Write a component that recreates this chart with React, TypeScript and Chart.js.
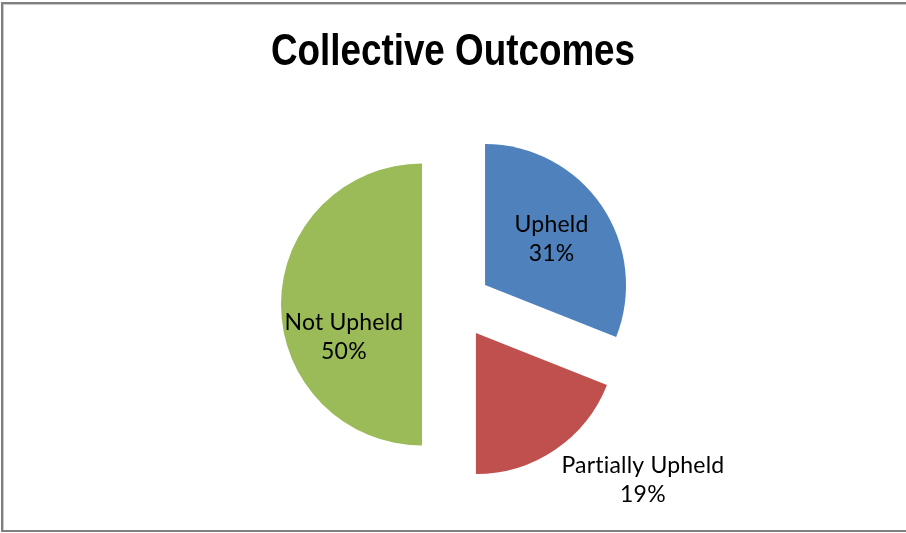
import React, { useEffect, useRef } from 'react';
import { Chart, registerables } from 'chart.js';

Chart.register(...registerables);

// ---- data ----
const categories = ['Upheld', 'Partially Upheld', 'Not Upheld'];
const values = [31, 19, 50];
const sliceColors = ['#4F81BD', '#C0504D', '#9BBB59'];
const titleText = 'Collective Outcomes';

// ---- label placement (fraction of radius, fraction of slice angle) ----
const labelRadius = [0.573, 1.58, 0.6];
const labelAngleFrac = [0.496, 0.29, 0.374];

const EXPLODE = 34.5;
const PIE_RADIUS = 141;
const LABEL_FONT = "23px Lato, 'Noto Sans', sans-serif";
const LABEL_LINE = 29;

const explodePlugin = {
  id: 'explodeSlices',
  afterDatasetsUpdate(chart: any) {
    const meta = chart.getDatasetMeta(0);
    meta.data.forEach((arc: any) => {
      const mid = (arc.startAngle + arc.endAngle) / 2;
      arc.x += Math.cos(mid) * EXPLODE;
      arc.y += Math.sin(mid) * EXPLODE;
    });
  },
};

const labelPlugin = {
  id: 'sliceLabels',
  afterDatasetsDraw(chart: any) {
    const ctx = chart.ctx as any;
    const meta = chart.getDatasetMeta(0);
    const total = values.reduce((a, b) => a + b, 0);
    ctx.save();
    ctx.font = LABEL_FONT;
    try { ctx.letterSpacing = '0.2px'; } catch (e) { /* ignore */ }
    ctx.fillStyle = '#000000';
    ctx.textAlign = 'center';
    ctx.textBaseline = 'middle';
    meta.data.forEach((arc: any, i: number) => {
      const { x, y, startAngle, endAngle, outerRadius } = arc.getProps(
        ['x', 'y', 'startAngle', 'endAngle', 'outerRadius'],
        true
      );
      const a = startAngle + (endAngle - startAngle) * labelAngleFrac[i];
      const r = outerRadius * labelRadius[i];
      const px = x + Math.cos(a) * r;
      const py = y + Math.sin(a) * r;
      const pct = Math.round((values[i] / total) * 100) + '%';
      ctx.fillText(categories[i], px, py - LABEL_LINE / 2);
      ctx.fillText(pct, px, py + LABEL_LINE / 2);
    });
    ctx.restore();
  },
};

const titlePlugin = {
  id: 'narrowTitle',
  afterDraw(chart: any) {
    const ctx = chart.ctx as CanvasRenderingContext2D;
    ctx.save();
    ctx.translate(chart.width / 2, 65);
    ctx.scale(0.818, 1);
    ctx.font = "bold 45px 'Liberation Sans', Arial, sans-serif";
    ctx.fillStyle = '#000000';
    ctx.textAlign = 'center';
    ctx.textBaseline = 'alphabetic';
    ctx.fillText(titleText, 0, 0);
    ctx.restore();
  },
};

const framePlugin = {
  id: 'frame',
  afterDraw(chart: any) {
    const ctx = chart.ctx as CanvasRenderingContext2D;
    const w = chart.width;
    const h = chart.height;
    ctx.save();
    ctx.fillStyle = '#808080';
    ctx.fillRect(1, 2, 2, h - 4);
    ctx.fillRect(1, 2, w - 1, 2);
    ctx.fillRect(1, h - 3, w - 1, 2);
    ctx.fillStyle = '#c8c8c8';
    ctx.fillRect(3, 4, 1, h - 7);
    ctx.fillRect(3, 4, w - 3, 1);
    ctx.restore();
  },
};

export default function App() {
  const ref = useRef<HTMLCanvasElement>(null);
  useEffect(() => {
    document.body.style.margin = '0';
    const chart = new Chart(ref.current!, {
      type: 'pie',
      data: {
        labels: categories,
        datasets: [
          {
            data: values,
            backgroundColor: sliceColors,
            borderWidth: 0,
            hoverOffset: 0,
          },
        ],
      },
      options: {
        responsive: false,
        animation: false,
        events: [],
        radius: PIE_RADIUS,
        layout: { padding: { left: 7, right: 0, top: 83, bottom: 7 } },
        plugins: {
          legend: { display: false },
          tooltip: { enabled: false },
          title: { display: false },
        },
      } as any,
      plugins: [explodePlugin, labelPlugin, titlePlugin, framePlugin],
    });
    return () => chart.destroy();
  }, []);
  return (
    <div style={{ width: 906, height: 533, background: '#ffffff' }}>
      <canvas ref={ref} width={906} height={533} />
    </div>
  );
}
